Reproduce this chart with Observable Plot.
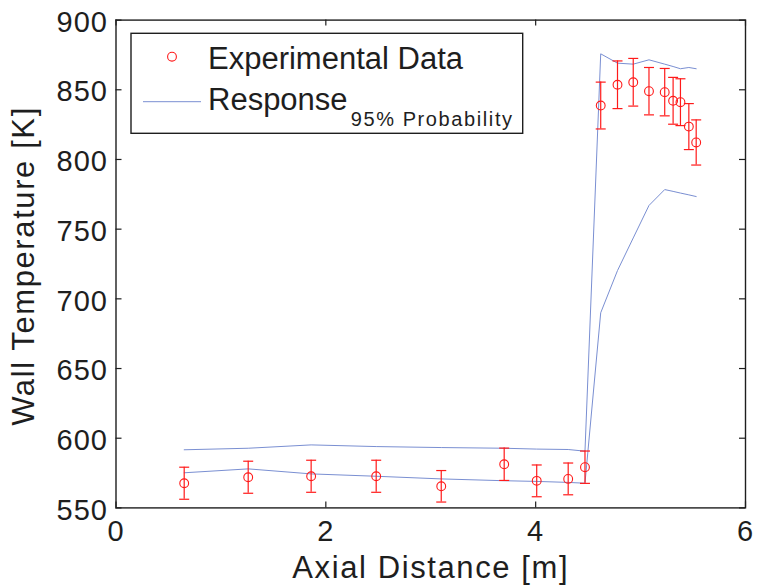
<!DOCTYPE html>
<html>
<head>
<meta charset="utf-8">
<script src="https://cdn.jsdelivr.net/npm/d3@7"></script>
<script src="https://cdn.jsdelivr.net/npm/@observablehq/plot@0.6"></script>
<style>
  html, body { margin: 0; padding: 0; background: #fff; }
  #wrap { position: relative; width: 757px; height: 588px; overflow: hidden; }
  #legend { position: absolute; left: 0; top: 0; pointer-events: none; }
</style>
</head>
<body>
<div id="wrap"></div>
<script>
// ---- data ----
const axialDistance = [0.65, 1.26, 1.86, 2.48, 3.10, 3.70, 4.01, 4.31, 4.47, 4.62, 4.78, 4.93, 5.08, 5.23, 5.31, 5.38, 5.46, 5.53];
const experimental  = [567.7, 572.0, 572.7, 572.7, 565.5, 581.3, 569.4, 570.8, 579.2, 838.7, 853.6, 855.4, 849.0, 848.3, 842.1, 841.1, 823.6, 812.2];
const expError      = [11.5, 11.5, 11.5, 11.5, 11.3, 11.6, 11.4, 11.4, 11.6, 16.8, 17.1, 17.1, 17.0, 17.0, 16.8, 16.8, 16.5, 16.2];
const responseUpper = [591.7, 592.8, 595.2, 594.0, 593.3, 592.8, 592.2, 591.9, 590.7, 875.8, 869.1, 868.4, 871.5, 868.4, 866.7, 865.1, 866.0, 865.1];
const responseLower = [575.2, 578.0, 574.4, 572.7, 570.8, 569.5, 569.0, 568.3, 567.7, 690.0, 720.3, 743.7, 767.0, 778.4, 777.1, 775.9, 774.6, 773.4];
const xTicks = [0, 2, 4, 6];
const yTicks = [550, 600, 650, 700, 750, 800, 850, 900];
const xTitle = "Axial Distance [m]";
const yTitle = "Wall Temperature [K]";
const legendLabels = ["Experimental Data", "Response"];
const legendSubscript = "95% Probability";

// ---- layout / style ----
const W = 757, H = 588;
const mL = 115.5, mR = 12, mT = 19.6, mB = 80.6;
const plotW = W - mL - mR, plotH = H - mT - mB;
const RED = "#ff1a1a", BLUE = "#7a8fd2", INK = "#1e1e1e";
const FONT = "'Liberation Sans', Arial, Helvetica, sans-serif";

const rows = axialDistance.map((x, i) => ({
  x, y: experimental[i], lo: experimental[i] - expError[i], hi: experimental[i] + expError[i],
  up: responseUpper[i], low: responseLower[i]
}));

const capSymbol = {
  draw(ctx, size) { const w = Math.sqrt(size / Math.PI); ctx.moveTo(-w, 0); ctx.lineTo(w, 0); }
};

const chart = Plot.plot({
  width: W, height: H,
  marginLeft: mL, marginRight: mR, marginTop: mT, marginBottom: mB,
  style: { fontFamily: FONT, background: "white", color: INK },
  x: { domain: [0, 6], axis: null },
  y: { domain: [550, 900], axis: null },
  marks: [
    Plot.line(rows, { x: "x", y: "up", stroke: BLUE, strokeWidth: 1 }),
    Plot.line(rows, { x: "x", y: "low", stroke: BLUE, strokeWidth: 1 }),
    Plot.ruleX(rows, { x: "x", y1: "lo", y2: "hi", stroke: RED, strokeWidth: 1.2 }),
    Plot.dot(rows, { x: "x", y: "lo", symbol: capSymbol, r: 5, stroke: RED, fill: "none", strokeWidth: 1.2 }),
    Plot.dot(rows, { x: "x", y: "hi", symbol: capSymbol, r: 5, stroke: RED, fill: "none", strokeWidth: 1.2 }),
    Plot.dot(rows, { x: "x", y: "y", r: 4.4, stroke: RED, fill: "none", strokeWidth: 1.1 }),
    Plot.frame({ stroke: INK, strokeWidth: 1.4 }),
    // inward ticks on all four sides
    Plot.tickX(xTicks, { x: d => d, insetTop: plotH - 6, stroke: INK, strokeWidth: 1.2 }),
    Plot.tickX(xTicks, { x: d => d, insetBottom: plotH - 6, stroke: INK, strokeWidth: 1.2 }),
    Plot.tickY(yTicks, { y: d => d, insetRight: plotW - 6, stroke: INK, strokeWidth: 1.2 }),
    Plot.tickY(yTicks, { y: d => d, insetLeft: plotW - 6, stroke: INK, strokeWidth: 1.2 }),
    // tick labels
    Plot.text(xTicks, { x: d => d, frameAnchor: "bottom", lineAnchor: "top", dy: 12.5, text: d => String(d), fontSize: 29, fill: INK }),
    Plot.text(yTicks, { y: d => d, frameAnchor: "left", textAnchor: "end", lineAnchor: "middle", dx: -8, dy: 2.4, text: d => String(d), fontSize: 29, fill: INK }),
    // axis titles
    Plot.text([xTitle], { frameAnchor: "bottom", lineAnchor: "bottom", dy: 69.6, text: d => d, fontSize: 31, fill: INK }),
    Plot.text([yTitle], { frameAnchor: "left", textAnchor: "middle", rotate: -90, lineAnchor: "bottom", dx: -82, dy: 2, text: d => d, fontSize: 31, fill: INK })
  ]
});

const sel = d3.select(chart);
sel.selectAll("text").style("letter-spacing", "1px");
document.getElementById("wrap").appendChild(chart);
// titles get a little more spacing than tick labels
sel.selectAll("text").filter(function () { return this.textContent === xTitle || this.textContent === yTitle; })
  .style("letter-spacing", "1.6px");

// ---- legend (overlay) ----
const leg = d3.select("#wrap").append("svg")
  .attr("id", "legend").attr("width", W).attr("height", H)
  .style("font-family", FONT);
leg.append("rect").attr("x", 131).attr("y", 33.3).attr("width", 391.7).attr("height", 100)
  .attr("fill", "white").attr("stroke", INK).attr("stroke-width", 1.4);
leg.append("circle").attr("cx", 172).attr("cy", 56.7).attr("r", 4.4)
  .attr("fill", "none").attr("stroke", RED).attr("stroke-width", 1.1);
leg.append("line").attr("x1", 143).attr("x2", 201).attr("y1", 101.7).attr("y2", 101.7)
  .attr("stroke", BLUE).attr("stroke-width", 1);
leg.append("text").attr("x", 208).attr("y", 69).attr("font-size", 31).attr("fill", INK)
  .text(legendLabels[0]);
const t2 = leg.append("text").attr("x", 208).attr("y", 110).attr("font-size", 31).attr("fill", INK);
t2.append("tspan").text(legendLabels[1]);
leg.append("text").attr("x", 350.7).attr("y", 126).attr("font-size", 20).attr("fill", INK)
  .style("letter-spacing", "1.6px").text(legendSubscript);
</script>
</body>
</html>
